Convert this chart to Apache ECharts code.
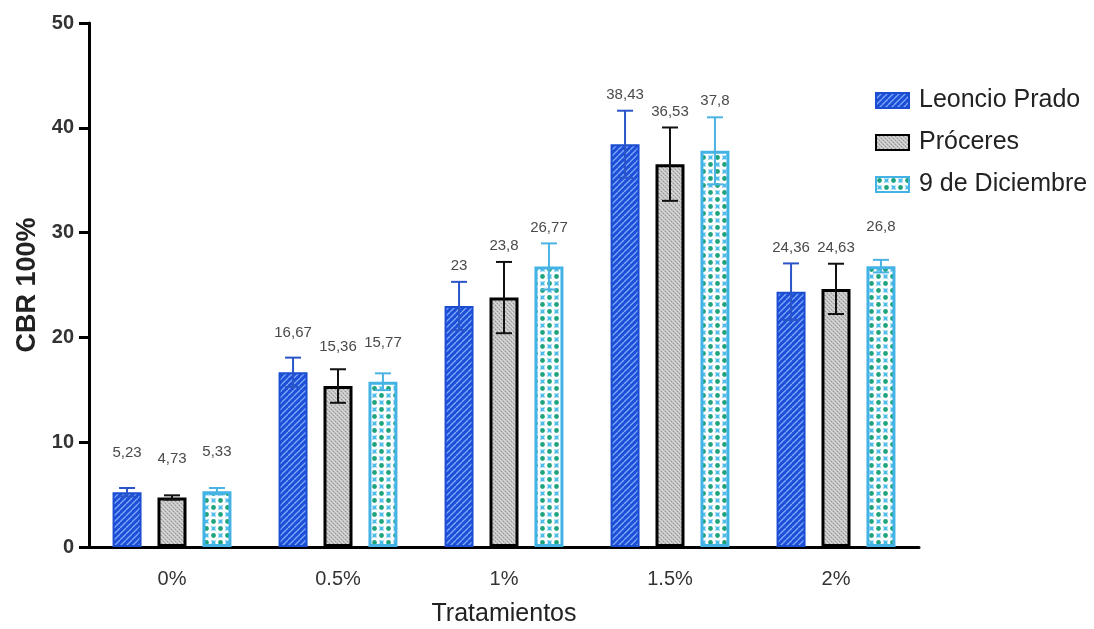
<!DOCTYPE html>
<html>
<head>
<meta charset="utf-8">
<script src="https://cdn.jsdelivr.net/npm/echarts@6/dist/echarts.min.js"></script>
<style>
html,body{margin:0;padding:0;background:#fff;}
#chart{width:1094px;height:629px;}
</style>
</head>
<body>
<div id="chart"></div>
<script>
// ---- data ----
var categories = ['0%', '0.5%', '1%', '1.5%', '2%'];
var seriesNames = ['Leoncio Prado', 'Próceres', '9 de Diciembre'];
var leoncioPrado = [5.23, 16.67, 23, 38.43, 24.36];
var proceres = [4.73, 15.36, 23.8, 36.53, 24.63];
var diciembre = [5.33, 15.77, 26.77, 37.8, 26.8];
var leoncioPradoErr = [0.4, 1.4, 2.3, 3.2, 2.7];
var proceresErr = [0.2, 1.6, 3.4, 3.5, 2.4];
var diciembreErr = [0.3, 0.8, 2.2, 3.2, 0.6];
var yTicks = [0, 10, 20, 30, 40, 50];

// ---- patterns ----
function makeCanvas(w, h, draw) {
  var c = document.createElement('canvas');
  c.width = w; c.height = h;
  draw(c.getContext('2d'), w, h);
  return c;
}
var bluePat = makeCanvas(6, 6, function (g, w, h) {
  g.fillStyle = '#1d4fd6'; g.fillRect(0, 0, w, h);
  g.strokeStyle = '#7fa9ff'; g.lineWidth = 1.3;
  g.beginPath(); g.moveTo(-6, 6); g.lineTo(0, 0); g.stroke();
  g.beginPath(); g.moveTo(0, 6); g.lineTo(6, 0); g.stroke();
  g.beginPath(); g.moveTo(6, 6); g.lineTo(12, 0); g.stroke();
});
var grayPat = makeCanvas(4, 4, function (g, w, h) {
  g.fillStyle = '#bfbfbf'; g.fillRect(0, 0, w, h);
  g.fillStyle = '#dedede'; g.fillRect(0, 0, 1, 1); g.fillRect(1, 1, 1, 1); g.fillRect(2, 2, 1, 1); g.fillRect(3, 3, 1, 1);
  g.fillStyle = '#9a9a9a'; g.fillRect(3, 1, 1, 1); g.fillRect(1, 3, 1, 1);
});
var cyanPat = makeCanvas(14, 14, function (g, w, h) {
  g.fillStyle = '#4fbbe8'; g.fillRect(0, 0, w, h);
  g.fillStyle = '#ffffff';
  var pts = [[3.5, 3.5], [10.5, 10.5]];
  var shifts = [[0, 0], [14, 0], [-14, 0], [0, 14], [0, -14]];
  pts.forEach(function (p) {
    shifts.forEach(function (s) {
      g.beginPath(); g.arc(p[0] + s[0], p[1] + s[1], 5.2, 0, Math.PI * 2); g.fill();
    });
  });
  g.fillStyle = '#1fa37c';
  pts.forEach(function (p) {
    g.beginPath(); g.arc(p[0], p[1], 2.4, 0, Math.PI * 2); g.fill();
  });
});

var valuesList = [leoncioPrado, proceres, diciembre];
var errList = [leoncioPradoErr, proceresErr, diciembreErr];
var fills = [bluePat, grayPat, cyanPat];
var borders = ['#1b4dd0', '#000000', '#43b3e6'];
var borderWidths = [2, 3, 3];
var errColors = ['#2a55c8', '#111111', '#4ab3e3'];
var BAR_W = 29, GAP = 0.55;
var FONT = '"Liberation Sans", Arial, sans-serif';

function fmt(v) { return String(v).replace('.', ','); }

var series = [];
valuesList.forEach(function (vals, s) {
  series.push({
    name: seriesNames[s],
    type: 'bar',
    data: vals,
    barWidth: BAR_W,
    barGap: (GAP * 100) + '%',
    itemStyle: {
      color: { image: fills[s], repeat: 'repeat' },
      borderColor: borders[s],
      borderWidth: borderWidths[s]
    },
    emphasis: { disabled: true },
    z: 2
  });
});
valuesList.forEach(function (vals, s) {
  series.push({
    name: seriesNames[s] + ' err',
    type: 'custom',
    z: 5,
    data: vals.map(function (v, i) { return [i, v, errList[s][i]]; }),
    renderItem: function (params, api) {
      var idx = api.value(0), v = api.value(1), e = api.value(2);
      var c = api.coord([idx, v]);
      var t = api.coord([idx, v + e]);
      var b = api.coord([idx, v - e]);
      var x = c[0] + (s - 1) * BAR_W * (1 + GAP);
      var hw = 8;
      var ls = { stroke: errColors[s], lineWidth: 2 };
      var ly = Math.min(c[1] - 39, t[1] - 16);
      return {
        type: 'group',
        children: [
          { type: 'line', shape: { x1: x, y1: t[1], x2: x, y2: b[1] }, style: ls },
          { type: 'line', shape: { x1: x - hw, y1: t[1], x2: x + hw, y2: t[1] }, style: ls },
          { type: 'line', shape: { x1: x - hw, y1: b[1], x2: x + hw, y2: b[1] }, style: ls },
          { type: 'text', x: x, y: ly, style: { text: fmt(v), textAlign: 'center', textVerticalAlign: 'middle', fill: '#4a4a4a', font: '15px ' + FONT } }
        ]
      };
    }
  });
});

var chart = echarts.init(document.getElementById('chart'), null, { renderer: 'canvas' });
chart.setOption({
  animation: false,
  backgroundColor: '#ffffff',
  grid: { left: 89, width: 830, top: 23, bottom: 82, containLabel: false, outerBoundsMode: 'none' },
  legend: {
    data: seriesNames,
    orient: 'vertical',
    left: 870,
    top: 83,
    itemWidth: 33,
    itemHeight: 15,
    itemGap: 17,
    icon: 'rect',
    textStyle: { fontSize: 25, color: '#222', fontFamily: FONT, padding: [0, 0, 0, 5] }
  },
  xAxis: {
    type: 'category',
    data: categories,
    name: 'Tratamientos',
    nameLocation: 'middle',
    nameGap: 55,
    nameTextStyle: { fontSize: 25, color: '#222', fontFamily: FONT },
    axisLine: { lineStyle: { color: '#000', width: 3 } },
    axisTick: { alignWithLabel: true, length: 12, lineStyle: { color: '#000', width: 3 } },
    axisLabel: { margin: 22, fontSize: 20, color: '#333', fontFamily: FONT }
  },
  yAxis: {
    type: 'value',
    min: 0, max: 50, interval: 10,
    name: 'CBR 100%',
    nameLocation: 'middle',
    nameGap: 43,
    nameTextStyle: { fontSize: 27, fontWeight: 'bold', color: '#222', fontFamily: FONT },
    axisLine: { show: true, lineStyle: { color: '#000', width: 3 } },
    axisTick: { show: true, length: 10, lineStyle: { color: '#000', width: 3 } },
    splitLine: { show: false },
    axisLabel: {
      margin: 15, fontSize: 20, fontWeight: 'bold', color: '#333', fontFamily: FONT,
      formatter: function (v) { return yTicks.indexOf(v) >= 0 ? String(v) : ''; }
    }
  },
  series: series
});
</script>
</body>
</html>
